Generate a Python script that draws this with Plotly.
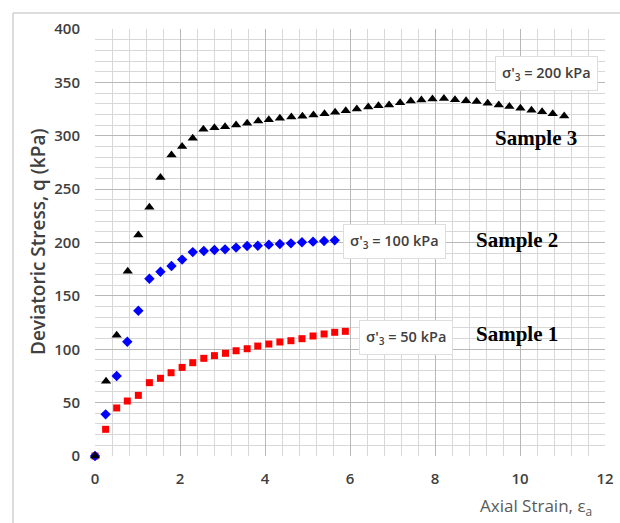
import plotly.graph_objects as go

# Sample 1 (sigma'3 = 50 kPa)
strain1 = [0, 0.25, 0.51, 0.76, 1.02, 1.28, 1.54, 1.79, 2.05, 2.30, 2.56, 2.81,
           3.07, 3.32, 3.58, 3.83, 4.09, 4.35, 4.61, 4.87, 5.13, 5.39, 5.64, 5.89]
q1 = [0, 25, 45, 51.5, 56.8, 68.7, 72.8, 78, 83, 87.4, 91.5, 94,
      96.2, 98.6, 100.5, 103, 104.9, 106.8, 108, 109.9, 112.4, 114.3, 115.9, 116.8]

# Sample 2 (sigma'3 = 100 kPa)
strain2 = [0, 0.25, 0.51, 0.76, 1.02, 1.28, 1.54, 1.80, 2.05, 2.30, 2.56, 2.81,
           3.06, 3.32, 3.58, 3.83, 4.09, 4.35, 4.61, 4.87, 5.13, 5.39, 5.64]
q2 = [0, 39, 75, 107, 136, 166, 172.6, 178, 184, 191, 192, 193,
      193.6, 195.2, 196.7, 197, 198, 198.6, 199.2, 200.2, 200.8, 201.4, 202]

# Sample 3 (sigma'3 = 200 kPa)
strain3 = [0, 0.26, 0.51, 0.77, 1.02, 1.28, 1.54, 1.80, 2.05, 2.30, 2.55, 2.81,
           3.06, 3.32, 3.58, 3.84, 4.09, 4.35, 4.62, 4.88, 5.14, 5.40, 5.65, 5.90,
           6.16, 6.43, 6.67, 6.92, 7.18, 7.43, 7.68, 7.94, 8.21, 8.47, 8.73, 8.98,
           9.24, 9.50, 9.75, 10.01, 10.27, 10.52, 10.77, 11.04]
q3 = [0, 70, 113, 173, 207, 233, 261, 282, 290, 297.6, 306, 307.6,
      308.5, 310, 311.7, 313.8, 315, 316.3, 317.6, 318.2, 319.4, 320.6, 321.9, 323.4,
      325, 326.9, 328, 328.8, 331, 332.6, 333.5, 334.4, 335, 333.8, 332.9, 332,
      330.4, 328.8, 327.3, 325.7, 324, 322.5, 320.6, 318.5]

box_labels = ["σ'<sub>3</sub> = 200 kPa", "σ'<sub>3</sub> = 100 kPa", "σ'<sub>3</sub> = 50 kPa"]
sample_labels = ["Sample 3", "Sample 2", "Sample 1"]

fig = go.Figure()
fig.add_trace(go.Scatter(x=strain1, y=q1, mode="markers", cliponaxis=False,
                         marker=dict(symbol="square", size=7, color="#ff0000"),
                         showlegend=False))
fig.add_trace(go.Scatter(x=strain2, y=q2, mode="markers", cliponaxis=False,
                         marker=dict(symbol="diamond", size=8, color="#0000ff"),
                         showlegend=False))
fig.add_trace(go.Scatter(x=strain3, y=q3, mode="markers", cliponaxis=False,
                         marker=dict(symbol="triangle-up", size=9, color="#000000"),
                         showlegend=False))

W, H = 620, 523
L, R, T, B = 95, 15, 29, 67
pw, ph = W - L - R, H - T - B


def px(xp):
    return (xp - L) / pw


def py(yp):
    return (H - B - yp) / ph


tick_font = dict(family="Open Sans", size=15, color="#404040", weight=600)

fig.update_layout(
    width=W, height=H,
    margin=dict(l=L, r=R, t=T, b=B, autoexpand=False),
    paper_bgcolor="white", plot_bgcolor="white",
    xaxis=dict(range=[0, 12], dtick=2, tick0=0, showline=False, zeroline=False,
               automargin=False,
               gridcolor="#b8b8b8", gridwidth=1, ticks="", tickfont=tick_font,
               ticklabelstandoff=12,
               minor=dict(dtick=0.4, showgrid=True, gridcolor="#d8d8d8", gridwidth=1)),
    yaxis=dict(range=[0, 400], dtick=50, tick0=0, showline=False, zeroline=False,
               automargin=False,
               gridcolor="#b8b8b8", gridwidth=1, ticks="", tickfont=tick_font,
               ticklabelstandoff=14,
               minor=dict(dtick=10, showgrid=True, gridcolor="#d8d8d8", gridwidth=1)),
)

# Outer frame (left and top edges)
fig.add_shape(type="line", xref="paper", yref="paper",
              x0=px(13), x1=px(640), y0=py(13), y1=py(13),
              line=dict(color="#d0d0d0", width=1.5))
fig.add_shape(type="line", xref="paper", yref="paper",
              x0=px(13), x1=px(13), y0=py(13), y1=py(540),
              line=dict(color="#d0d0d0", width=1.5))

# Axis titles
fig.add_annotation(xref="paper", yref="paper", x=px(38), y=py(242),
                   xanchor="center", yanchor="middle",
                   text="Deviatoric Stress, q (kPa)", textangle=-90, showarrow=False,
                   font=dict(family="Open Sans", size=19, color="#404040", weight=600))
fig.add_annotation(xref="paper", yref="paper", x=px(594), y=py(507),
                   xanchor="right", yanchor="middle",
                   text="Axial Strain, ε<sub>a</sub>", showarrow=False,
                   font=dict(family="Open Sans", size=17, color="#595959"))

# Boxed labels
box_pos = [(546, 73), (394, 241), (406, 337)]
for (bx, by), txt in zip(box_pos, box_labels):
    fig.add_annotation(xref="paper", yref="paper", x=px(bx), y=py(by),
                       xanchor="center", yanchor="middle",
                       text=txt, showarrow=False, bgcolor="white",
                       bordercolor="#dedede", borderwidth=1, borderpad=6,
                       font=dict(family="Open Sans", size=14.5, color="#404040", weight=600))

# Sample labels
sample_pos = [(536, 138), (517, 240), (517, 334)]
for (sx, sy), txt in zip(sample_pos, sample_labels):
    fig.add_annotation(xref="paper", yref="paper", x=px(sx), y=py(sy),
                       xanchor="center", yanchor="middle",
                       text="<b>" + txt + "</b>", showarrow=False,
                       font=dict(family="Liberation Serif", size=21, color="#000000"))

fig.write_html("out.html")
